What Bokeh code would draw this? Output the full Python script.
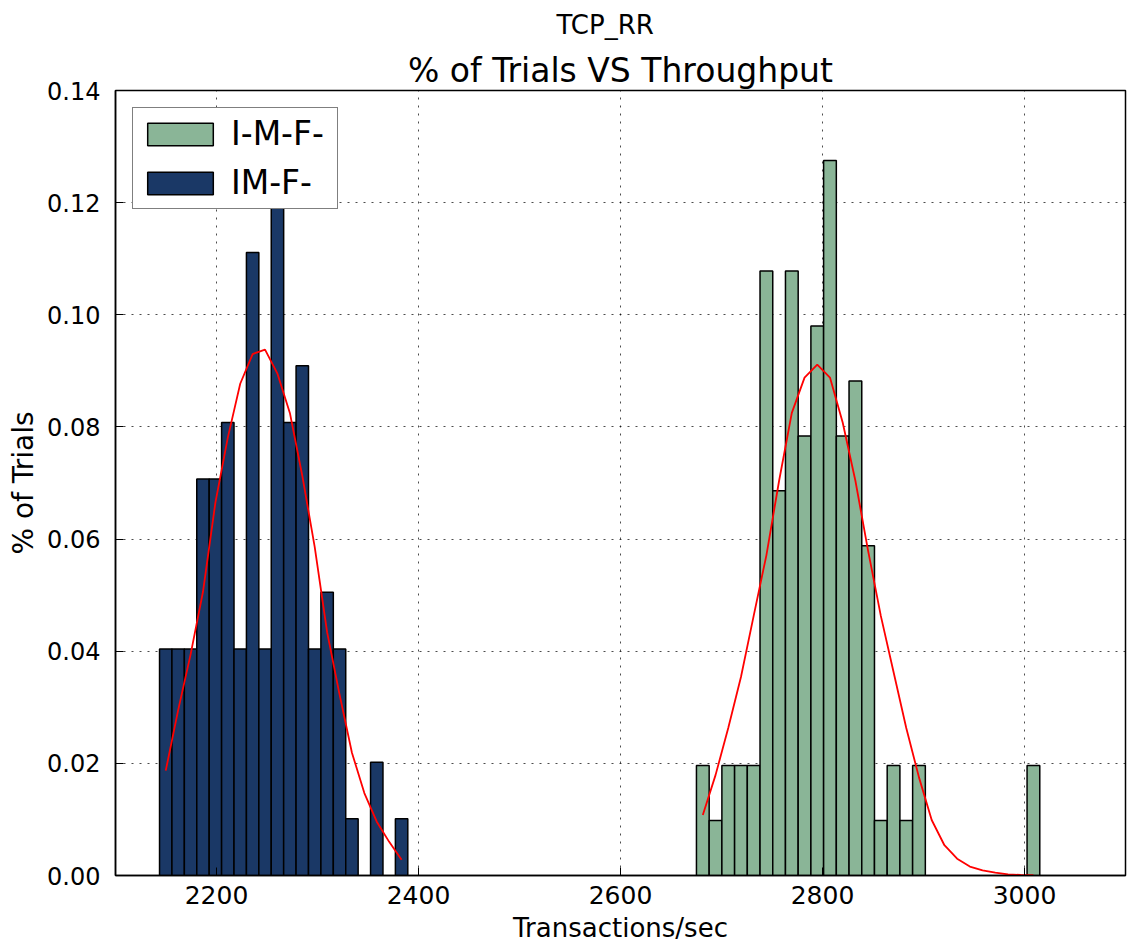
from bokeh.plotting import figure
from bokeh.models import (ColumnDataSource, Range1d, FixedTicker, NumeralTickFormatter,
                          Legend, LegendItem, Title)
from bokeh.embed import file_html
from bokeh.resources import INLINE

# IM-F- run: fraction of trials per throughput bin, plus its normal fit at bin centres
imf_bin_start = 2143.6
imf_bin_width = 12.29
imf_frac = [0.0404, 0.0404, 0.0404, 0.0707, 0.0707, 0.0808, 0.0404, 0.1111, 0.0404, 0.1212,
            0.0808, 0.0909, 0.0404, 0.0505, 0.0404, 0.0101, 0.0, 0.0202, 0.0, 0.0101]
imf_fit = [0.0187, 0.0295, 0.0394, 0.0506, 0.0665, 0.0781, 0.0877, 0.0930, 0.0938, 0.0895,
           0.0825, 0.0713, 0.0586, 0.0434, 0.0323, 0.0219, 0.0147, 0.0096, 0.0060, 0.0028]

# I-M-F- run
i_m_f_bin_start = 2675.2
i_m_f_bin_width = 12.59
i_m_f_frac = [0.0196, 0.0098, 0.0196, 0.0196, 0.0196, 0.1078, 0.0686, 0.1078, 0.0784, 0.0980,
              0.1275, 0.0784, 0.0882, 0.0588, 0.0098, 0.0196, 0.0098, 0.0196, 0.0, 0.0,
              0.0, 0.0, 0.0, 0.0, 0.0, 0.0, 0.0196]
i_m_f_fit = [0.0108, 0.0179, 0.0263, 0.0354, 0.0463, 0.0571, 0.0704, 0.0825, 0.0888, 0.0911,
             0.0888, 0.0808, 0.0704, 0.0579, 0.0463, 0.0363, 0.0263, 0.0175, 0.0099, 0.0054,
             0.0030, 0.0016, 0.0009, 0.0005, 0.0002, 0.0001, 0.00005]

x_ticks = [2200, 2400, 2600, 2800, 3000]
y_ticks = [0.00, 0.02, 0.04, 0.06, 0.08, 0.10, 0.12, 0.14]

GREEN = "#8ab597"
NAVY = "#1a3866"
FONT = "DejaVu Sans"


def hist_source(start, width, frac):
    left, right, top = [], [], []
    for i, f in enumerate(frac):
        if f > 0:
            left.append(start + i * width)
            right.append(start + (i + 1) * width)
            top.append(f)
    return ColumnDataSource(dict(left=left, right=right, top=top))


def fit_source(start, width, fit):
    return ColumnDataSource(dict(x=[start + (i + 0.5) * width for i in range(len(fit))], y=fit))


p = figure(width=1127, height=950, output_backend="svg", toolbar_location=None,
           x_range=Range1d(2100, 3100), y_range=Range1d(0, 0.14),
           min_border_left=115, min_border_right=2, min_border_top=89, min_border_bottom=75,
           background_fill_color="white", border_fill_color="white")

# outer heading (centred on the page), chart title nearest the frame
p.title.text = "TCP_RR"
p.title.align = "left"
p.title.offset = 441
p.title.text_font = FONT
p.title.text_font_size = "26px"
p.title.text_font_style = "normal"
p.title.text_color = "black"
p.title.standoff = 15
p.add_layout(Title(text="% of Trials VS Throughput", align="center", text_font=FONT,
                   text_font_size="33px", text_font_style="normal", text_color="black",
                   standoff=2), "above")

p.outline_line_color = "black"
p.outline_line_width = 1.5

green_bars = p.quad(left="left", right="right", bottom=0, top="top",
                    source=hist_source(i_m_f_bin_start, i_m_f_bin_width, i_m_f_frac),
                    fill_color=GREEN, line_color="black", line_width=1.5)
navy_bars = p.quad(left="left", right="right", bottom=0, top="top",
                   source=hist_source(imf_bin_start, imf_bin_width, imf_frac),
                   fill_color=NAVY, line_color="black", line_width=1.5)
p.line("x", "y", source=fit_source(i_m_f_bin_start, i_m_f_bin_width, i_m_f_fit),
       line_color="red", line_width=1.8)
p.line("x", "y", source=fit_source(imf_bin_start, imf_bin_width, imf_fit),
       line_color="red", line_width=1.8)

# dotted grid
for g in (p.xgrid, p.ygrid):
    g.grid_line_color = "black"
    g.grid_line_alpha = 0.7
    g.grid_line_dash = "2 6"
    g.grid_line_width = 1
p.xgrid.ticker = FixedTicker(ticks=x_ticks)
p.ygrid.ticker = FixedTicker(ticks=y_ticks)

# axes with inward ticks
xa = p.xaxis[0]
ya = p.yaxis[0]
xa.ticker = FixedTicker(ticks=x_ticks)
ya.ticker = FixedTicker(ticks=y_ticks)
ya.formatter = NumeralTickFormatter(format="0.00")
xa.axis_label = "Transactions/sec"
ya.axis_label = "% of Trials"
for ax in (xa, ya):
    ax.major_tick_in = 8
    ax.major_tick_out = 0
    ax.minor_tick_in = 0
    ax.minor_tick_out = 0
    ax.axis_line_color = "black"
    ax.axis_line_width = 1.5
    ax.major_tick_line_color = "black"
    ax.major_label_text_font = FONT
    ax.major_label_text_color = "black"
    ax.axis_label_text_font = FONT
    ax.axis_label_text_font_style = "normal"
    ax.axis_label_text_color = "black"
xa.major_label_text_font_size = "25px"
ya.major_label_text_font_size = "24px"
xa.axis_label_text_font_size = "26px"
ya.axis_label_text_font_size = "28px"
xa.major_label_standoff = 10
ya.major_label_standoff = 15
xa.axis_label_standoff = 6
ya.axis_label_standoff = 4

legend = Legend(items=[LegendItem(label="I-M-F-", renderers=[green_bars]),
                       LegendItem(label="IM-F-", renderers=[navy_bars])],
                location="top_left", margin=17, padding=6, spacing=10,
                glyph_width=82, glyph_height=28, label_standoff=10,
                label_height=38, label_width=100,
                label_text_font=FONT, label_text_font_size="33px", label_text_color="black",
                border_line_color="black", border_line_width=1.5,
                background_fill_alpha=1.0)
p.add_layout(legend)

open("out.html", "w").write(file_html(p, INLINE))
